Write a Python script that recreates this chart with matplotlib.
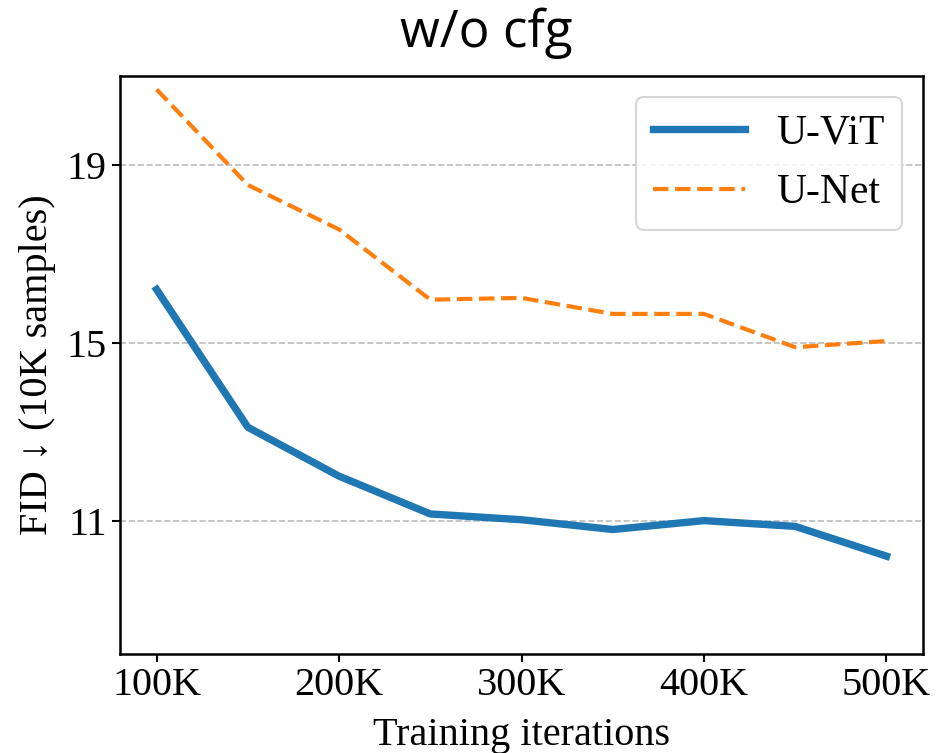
import numpy as np
import matplotlib
matplotlib.use("Agg")
import matplotlib.pyplot as plt

# data
iters = [100, 150, 200, 250, 300, 350, 400, 450, 500]
uvit = [16.2, 13.1, 12.0, 11.15, 11.02, 10.8, 11.0, 10.87, 10.2]
unet = [20.7, 18.55, 17.55, 15.97, 16.01, 15.65, 15.65, 14.9, 15.04]
xticks = [100, 200, 300, 400, 500]
xticklabels = ["100K", "200K", "300K", "400K", "500K"]
yticks = [11, 15, 19]

plt.rcParams['font.family'] = ['Liberation Serif', 'DejaVu Serif']

fig = plt.figure(figsize=(9.38, 7.53), dpi=100)
ax = fig.add_axes([0.128, 0.1315, 0.856, 0.7675])

ax.plot(iters, uvit, color='#1f77b4', lw=5.3, label='U-ViT')
ax.plot(iters, unet, color='#ff7f0e', lw=3, ls='--', label='U-Net')

ax.set_ylim(8, 21)
ax.set_xticks(xticks)
ax.set_xticklabels(xticklabels)
ax.set_yticks(yticks)
ax.tick_params(labelsize=29, width=1.5, length=6)
for s in ax.spines.values():
    s.set_linewidth(1.8)
ax.grid(axis='y', ls='--', color='#bbbbbb', lw=1.2)

ax.set_xlabel('Training iterations', fontsize=29, labelpad=9)
ax.set_ylabel('FID ↓ (10K samples)', fontsize=29, labelpad=8)
fig.text(0.518, 1 - 47 / 753, 'w/o cfg', fontsize=37, family='Open Sans',
         ha='center', va='baseline')

leg = ax.legend(fontsize=30, loc='upper right', handlelength=2.2,
                borderpad=0.42, labelspacing=0.5, handletextpad=0.75)
leg.get_frame().set_linewidth(1.5)

fig.savefig('out.png', dpi=100)
